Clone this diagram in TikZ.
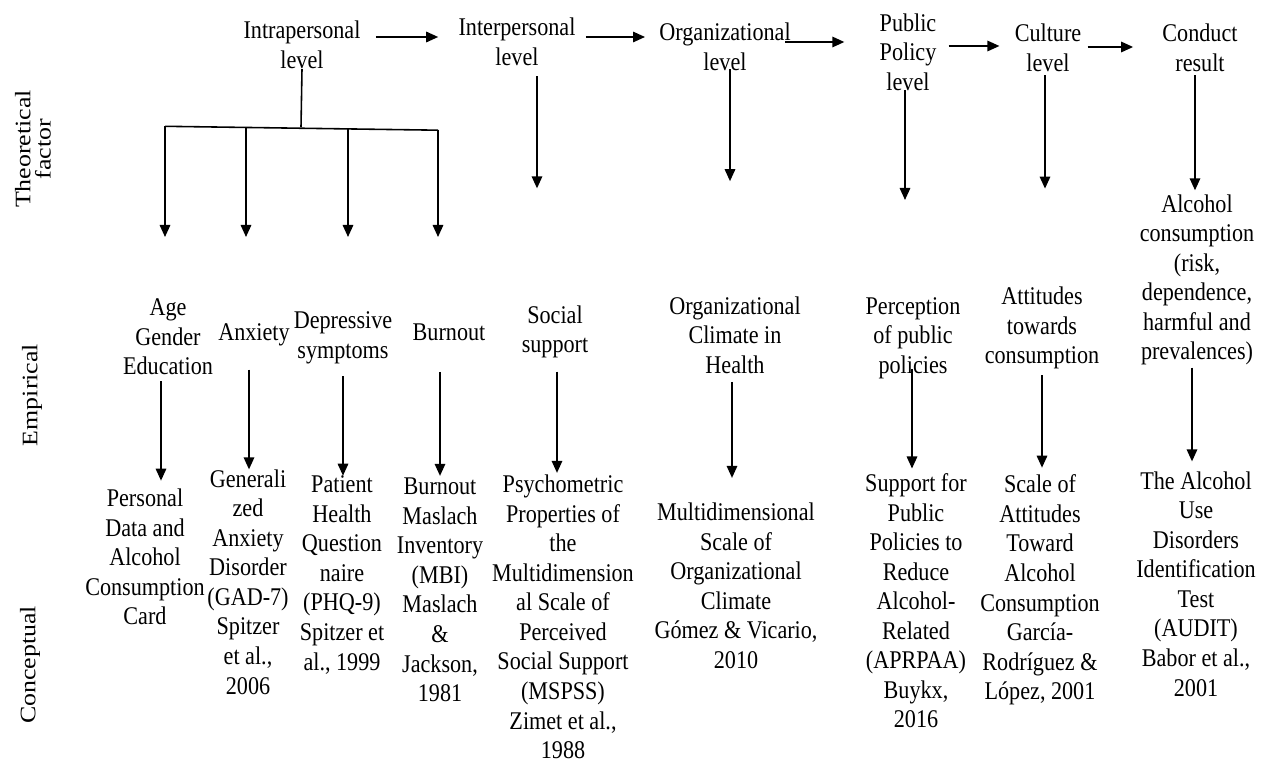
\documentclass[tikz,border=0pt]{standalone}
\usepackage{fontspec}
\setmainfont{Liberation Serif}[FakeStretch=0.87]
\newfontfamily\sidefont{Liberation Serif}[FakeStretch=1.17]
\usepackage{tikz}
\usetikzlibrary{arrows.meta}
\newcommand\unitpx{0.02}
\tikzset{lbl/.style={align=center, inner sep=0pt, font=\fontsize{14.5}{16.8}\selectfont}}
\tikzset{rowname/.style={rotate=90, align=center, inner sep=0pt, font=\sidefont\fontsize{12.6}{11.5}\selectfont}}
\tikzset{link/.style={line width=0.9pt}}
\tikzset{arrow/.style={link, -{Triangle[length=0.24cm, width=0.21cm]}}}

\begin{document}
\begin{tikzpicture}[x=\unitpx cm, y=-\unitpx cm]
\useasboundingbox (0,0) rectangle (1265,763);
% row names
\node[rowname] (theo) at (33,149) {Theoretical\\factor};
\node[rowname] (emp) at (32,395) {Empirical};
\node[rowname] (conc) at (30,665) {Conceptual};
% levels
\node[lbl] (intra) at (302,45) {Intrapersonal\\level};
\node[lbl] (inter) at (517,42) {Interpersonal\\level};
\node[lbl] (org) at (725,47) {Organizational\\level};
\node[lbl] (pp) at (908,52) {Public\\Policy\\level};
\node[lbl] (cult) at (1048,48) {Culture\\level};
\node[lbl] (cond) at (1200,48) {Conduct\\result};
\draw[arrow] ([shift={(15,-8)}]intra.east) -- ([shift={(-20,-5)}]inter.west);
\draw[arrow] ([shift={(10,-5)}]inter.east) -- ([shift={(-14,-10)}]org.west);
\draw[arrow] ([shift={(-6,-5)}]org.east) -- ([shift={(-35,-10)}]pp.west);
\draw[arrow] ([shift={(12,-6)}]pp.east) -- ([shift={(-15,-2)}]cult.west);
\draw[arrow] ([shift={(6,-1)}]cult.east) -- ([shift={(-29,-1)}]cond.west);
% empirical
\node[lbl] (age) at (168,337) {Age\\Gender\\Education};
\node[lbl] (anx) at (254,335) {Anxiety};
\node[lbl] (dep) at (343,338) {Depressive\\symptoms};
\node[lbl] (burn) at (449,332) {Burnout};
\node[lbl] (soc) at (555,332) {Social\\support};
\node[lbl] (orgc) at (735,335) {Organizational\\Climate in\\Health};
\node[lbl] (perc) at (913,338) {Perception\\of public\\policies};
\node[lbl] (att) at (1042,328) {Attitudes\\towards\\consumption};
\node[lbl] (alc) at (1197,280) {Alcohol\\consumption\\(risk,\\dependence,\\harmful and\\prevalences)};
% conceptual
\node[lbl] (pdata) at (145,557) {Personal\\Data and\\Alcohol\\Consumption\\Card};
\node[lbl] (gad) at (248,582) {Generali\\zed\\Anxiety\\Disorder\\(GAD-7)\\Spitzer\\et al.,\\2006};
\node[lbl] (phq) at (342,575) {Patient\\Health\\Question\\naire\\(PHQ-9)\\Spitzer et\\al., 1999};
\node[lbl] (mbi) at (440,590) {Burnout\\Maslach\\Inventory\\(MBI)\\Maslach\\\&\\Jackson,\\1981};
\node[lbl] (msp) at (563,617) {Psychometric\\Properties of\\the\\Multidimension\\al Scale of\\Perceived\\Social Support\\(MSPSS)\\Zimet et al.,\\1988};
\node[lbl] (omsc) at (736,586) {Multidimensional\\Scale of\\Organizational\\Climate\\Gómez \& Vicario,\\2010};
\node[lbl] (aprp) at (916,601) {Support for\\Public\\Policies to\\Reduce\\Alcohol-\\Related\\(APRPAA)\\Buykx,\\2016};
\node[lbl] (sata) at (1040,590) {Scale of\\Attitudes\\Toward\\Alcohol\\Consumption\\García-\\Rodríguez \&\\López, 2001};
\node[lbl] (audit) at (1196,584) {The Alcohol\\Use\\Disorders\\Identification\\Test\\(AUDIT)\\Babor et al.,\\2001};
% intrapersonal tree
\coordinate (hub) at (301,127);
\draw[link] (intra.south) -- (hub);
\foreach \x [count=\i] in {165,246,348,438} {
	\coordinate (top\i) at (\x,125+\i*1.3);
	\coordinate (tip\i) at (\x,237);
	\draw[arrow] (top\i) -- (tip\i);
}
\draw[link] (top1) -- (top4);
% theoretical to empirical
\draw[arrow] ([shift={(20,10)}]inter.south) -- ([shift={(-18,-117)}]soc.north);
\draw[arrow] ([shift={(5,-2)}]org.south) -- ([shift={(-5,-115)}]orgc.north);
\draw[arrow] ([shift={(-3,-1)}]pp.south) -- ([shift={(-8,-97)}]perc.north);
\draw[arrow] ([shift={(-3,3)}]cult.south) -- ([shift={(3,-98)}]att.north);
\draw[arrow] ([shift={(-5,3)}]cond.south) -- ([shift={(-2,-4)}]alc.north);
% empirical to conceptual
\draw[arrow] ([shift={(-7,6)}]age.south) -- ([shift={(16,-8)}]pdata.north);
\draw[arrow] ([shift={(-5,23)}]anx.south) -- ([shift={(1,0)}]gad.north);
\draw[arrow] ([shift={(0,12)}]dep.south) -- ([shift={(1,0)}]phq.north);
\draw[arrow] ([shift={(-9,31)}]burn.south) -- ([shift={(0,-2)}]mbi.north);
\draw[arrow] ([shift={(2,13)}]soc.south) -- ([shift={(-6,-2)}]msp.north);
\draw[arrow] ([shift={(-3,8)}]orgc.south) -- ([shift={(-4,-25)}]omsc.north);
\draw[arrow] ([shift={(-1,-10)}]perc.south) -- ([shift={(-4,-5)}]aprp.north);
\draw[arrow] ([shift={(0,6)}]att.south) -- ([shift={(2,-7)}]sata.north);
\draw[arrow] ([shift={(-5,2)}]alc.south) -- ([shift={(-4,-10)}]audit.north);
\end{tikzpicture}
\end{document}
